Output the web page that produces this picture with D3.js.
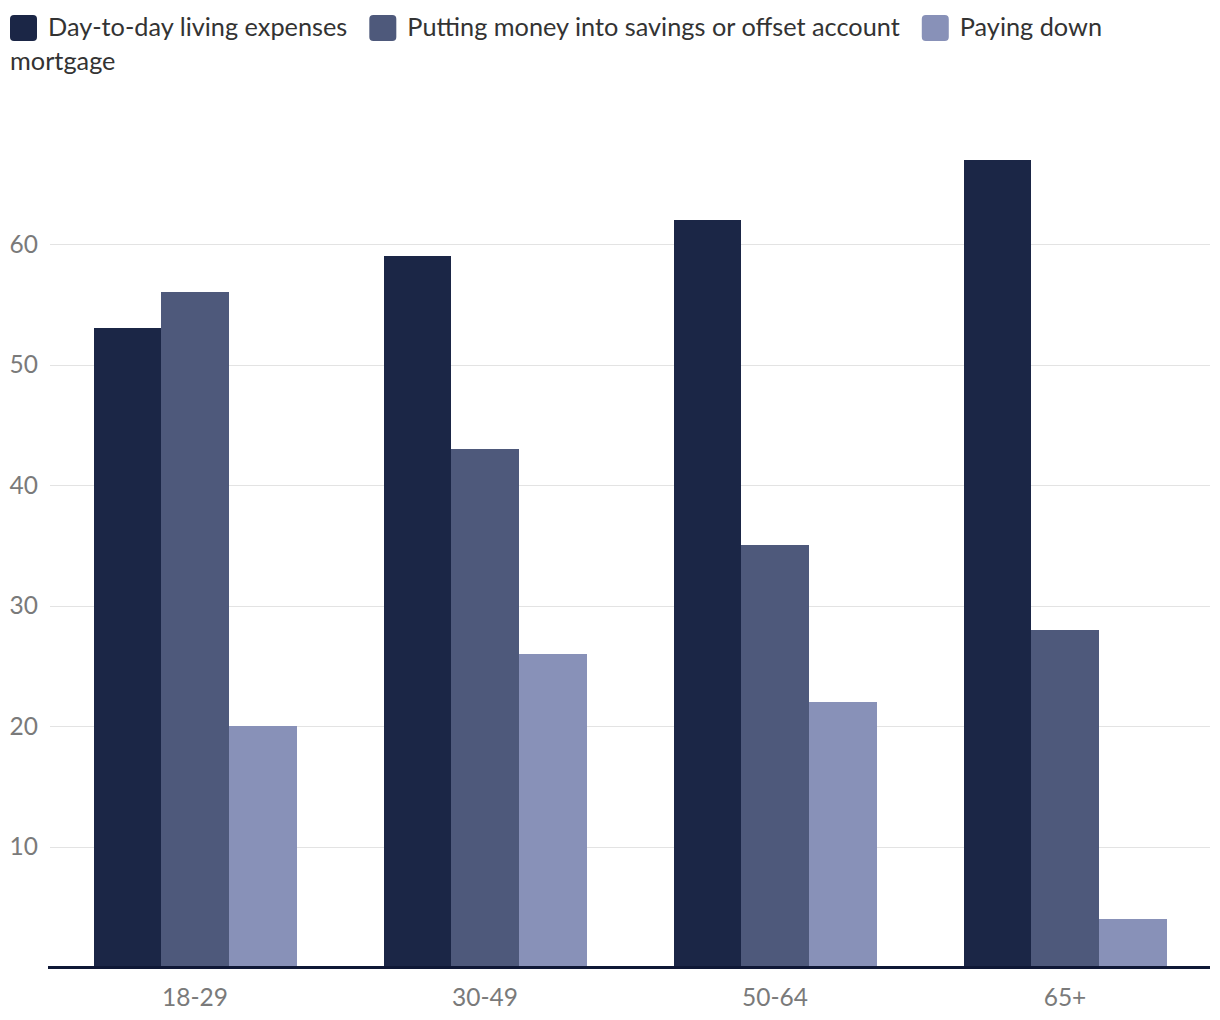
<!DOCTYPE html>
<html><head><meta charset="utf-8">
<script src="https://cdn.jsdelivr.net/npm/d3@7"></script>
<style>body{margin:0;background:#fff;} text{font-family:Lato, "Noto Sans", sans-serif;}</style>
</head><body>
<svg id="chart" width="1220" height="1020"></svg>
<script>
const categories = ["18-29", "30-49", "50-64", "65+"];
const seriesNames = ["Day-to-day living expenses", "Putting money into savings or offset account", "Paying down mortgage"];
const dayToDay = [53, 59, 62, 67];
const savings = [56, 43, 35, 28];
const mortgage = [20, 26, 22, 4];
const yTicks = [10, 20, 30, 40, 50, 60];
const colors = ["#1b2646", "#4e597b", "#8891b8"];
const seriesValues = [dayToDay, savings, mortgage];

const svg = d3.select("#chart");
const x0 = d3.scaleBand().domain(categories).range([50, 1210]).paddingInner(0.3).paddingOuter(0.15);
const x1 = d3.scaleBand().domain(d3.range(3)).range([0, x0.bandwidth()]);
const y = d3.scaleLinear().domain([0, 60]).range([967.5, 244]);

// gridlines
svg.append("g").selectAll("line").data(yTicks).join("line")
  .attr("x1", 50).attr("x2", 1210)
  .attr("y1", d => Math.round(y(d)) + 0.5).attr("y2", d => Math.round(y(d)) + 0.5)
  .attr("stroke", "#e3e3e3").attr("stroke-width", 1);

// y labels
svg.append("g").selectAll("text").data(yTicks).join("text")
  .attr("x", 38).attr("y", d => y(d)).attr("dy", "0.35em")
  .attr("text-anchor", "end").attr("fill", "#7a7a7a").style("font-size", "24.5px")
  .text(d => d);

// bars
const groups = svg.append("g").selectAll("g").data(categories).join("g");
groups.selectAll("rect").data((d, i) => seriesValues.map((s, k) => ({c: d, k, v: s[i]}))).join("rect")
  .attr("x", d => Math.round(x0(d.c) + x1(d.k)))
  .attr("width", d => Math.round(x0(d.c) + x1(d.k) + x1.bandwidth()) - Math.round(x0(d.c) + x1(d.k)))
  .attr("y", d => Math.round(y(d.v))).attr("height", d => Math.round(y(0)) - Math.round(y(d.v)))
  .attr("fill", d => colors[d.k])
  .attr("shape-rendering", "crispEdges");

// baseline
svg.append("line").attr("x1", 48).attr("x2", 1210).attr("y1", 967.5).attr("y2", 967.5)
  .attr("stroke", "#0f1836").attr("stroke-width", 3);

// x labels
svg.append("g").selectAll("text").data(categories).join("text")
  .attr("x", d => x0(d) + x0.bandwidth() / 2).attr("y", 1006)
  .attr("text-anchor", "middle").attr("fill", "#7a7a7a").style("font-size", "24.5px")
  .text(d => d);

// legend
const leg = svg.append("g");
const legendFont = 25.3;
let lx = 10;
const lineY = 36;
seriesNames.forEach((name, i) => {
  leg.append("rect").attr("x", lx).attr("y", 15).attr("width", 27).attr("height", 26).attr("rx", 4)
    .attr("fill", colors[i]);
  const t = leg.append("text").attr("x", lx + 38).attr("y", lineY).attr("fill", "#333")
    .style("font-size", legendFont + "px");
  if (i === 2) {
    const words = name.split(" ");
    t.append("tspan").text(words.slice(0, 2).join(" "));
    t.append("tspan").attr("x", 10).attr("y", lineY + 34).text(words.slice(2).join(" "));
  } else {
    t.text(name);
  }
  const w = t.node().getComputedTextLength();
  lx = lx + 38 + w + 22;
});
</script>
</body></html>
